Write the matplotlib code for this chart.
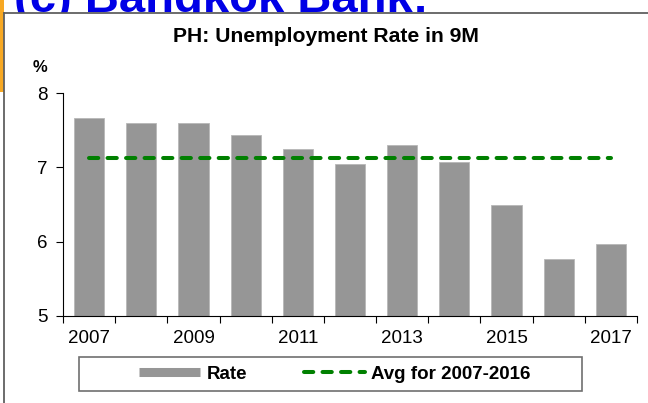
import matplotlib
matplotlib.use("Agg")
import matplotlib.pyplot as plt
from matplotlib.lines import Line2D
from matplotlib.patches import Rectangle

plt.rcParams['font.family'] = ['Liberation Sans', 'DejaVu Sans']

years = [2007, 2008, 2009, 2010, 2011, 2012, 2013, 2014, 2015, 2016, 2017]
rate = [7.67, 7.6, 7.6, 7.43, 7.24, 7.04, 7.3, 7.07, 6.5, 5.77, 5.97]
avg = [7.12] * len(years)
yticks = [5, 6, 7, 8]

W, H = 648, 403
fig = plt.figure(figsize=(W / 100, H / 100), dpi=100)
fig.patch.set_facecolor('white')

def fx(px):
    return px / W

def fy(py):
    return 1 - py / H

# decorative orange frame at top / left
orange = '#F7A823'
BAND = 13
fig.add_artist(Rectangle((0, fy(92)), fx(4), 92 / H, transform=fig.transFigure,
                         facecolor=orange, edgecolor='none', zorder=0))
band = fig.add_axes([0, fy(BAND), 1, BAND / H])
band.set_facecolor(orange)
band.set_xlim(0, W)
band.set_ylim(0, BAND)
band.axis('off')
t = band.text(14, 1.0, '(c) Bangkok Bank:', color='#0000E6', fontsize=34,
              fontweight='bold', ha='left', va='baseline')
t.set_clip_box(band.bbox)
t.set_clip_on(True)
fig.add_artist(Line2D([fx(4), 1], [fy(BAND), fy(BAND)], transform=fig.transFigure,
                      color='#606060', lw=1.3))
fig.add_artist(Line2D([fx(4), fx(4)], [0, fy(BAND)], transform=fig.transFigure,
                      color='#606060', lw=1.3))

# main axes
ax = fig.add_axes([fx(63), fy(316), fx(637) - fx(63), (316 - 93) / H])
x = list(range(len(years)))
ax.bar(x, rate, width=0.58, color='#969696', edgecolor='#b8b8b8', linewidth=0.6,
       zorder=2)
ax.plot(x, avg, color='#008000', lw=2.9, ls=(0, (2.3, 2.3)),
        dash_capstyle='round', zorder=3)

ax.set_xlim(-0.5, len(years) - 0.5)
ax.set_ylim(5, 8)
ax.set_yticks(yticks)
ax.set_yticklabels([str(v) for v in yticks])
ax.set_xticks(x[::2])
ax.set_xticklabels([str(years[i]) for i in x[::2]])
ax.set_xticks([i - 0.5 for i in range(len(years) + 1)], minor=True)
ax.tick_params(axis='x', which='major', length=0, pad=10, labelsize=13.5)
ax.tick_params(axis='x', which='minor', length=5, width=0.8, direction='out')
ax.tick_params(axis='y', length=5, width=0.8, direction='out', pad=6, labelsize=13.5)
for s in ['top', 'right']:
    ax.spines[s].set_visible(False)
for s in ['left', 'bottom']:
    ax.spines[s].set_color('black')
    ax.spines[s].set_linewidth(0.8)
ax.set_facecolor('none')

fig.text(fx(326), fy(42), 'PH: Unemployment Rate in 9M', ha='center', va='baseline',
         fontsize=15.2, fontweight='bold')
fig.text(fx(40), fy(72), '%', ha='center', va='baseline', fontsize=12,
         fontweight='bold')

# legend
fig.add_artist(Rectangle((fx(79), fy(391)), fx(582) - fx(79), (391 - 357) / H,
                         transform=fig.transFigure, facecolor='white',
                         edgecolor='#707070', lw=1.2))
handles = [Line2D([], [], color='#969696', lw=6.5, solid_capstyle='butt'),
           Line2D([], [], color='#008000', lw=2.9, ls=(0, (2.3, 2.3)),
                  dash_capstyle='round')]
leg = fig.legend(handles, ['Rate', 'Avg for 2007-2016'], loc='center',
                 bbox_to_anchor=(fx(335), fy(374)), ncol=2, frameon=False,
                 prop={'weight': 'bold', 'size': 13.5}, handlelength=3.25,
                 handletextpad=0.35, columnspacing=3.0)

fig.savefig('out.png', dpi=100)
